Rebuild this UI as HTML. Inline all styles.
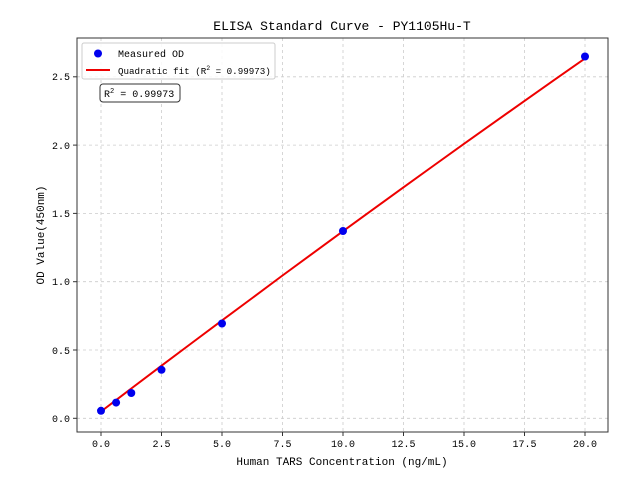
<!DOCTYPE html>
<html><head><meta charset="utf-8"><style>
body{margin:0;background:#fff}
svg text{font-family:"Liberation Mono","WenQuanYi Zen Hei",monospace;fill:#000}
</style></head><body>
<svg width="640" height="480" xmlns="http://www.w3.org/2000/svg">
<rect width="640" height="480" fill="#fff"/>
<g stroke="#ccc" stroke-dasharray="3,3" stroke-width="0.8">
<line x1="101" y1="38" x2="101" y2="432"/><line x1="161.5" y1="38" x2="161.5" y2="432"/>
<line x1="222" y1="38" x2="222" y2="432"/><line x1="282.5" y1="38" x2="282.5" y2="432"/>
<line x1="343" y1="38" x2="343" y2="432"/><line x1="403.5" y1="38" x2="403.5" y2="432"/>
<line x1="464" y1="38" x2="464" y2="432"/><line x1="524.5" y1="38" x2="524.5" y2="432"/>
<line x1="585" y1="38" x2="585" y2="432"/>
<line x1="77" y1="418.3" x2="608" y2="418.3"/><line x1="77" y1="350" x2="608" y2="350"/>
<line x1="77" y1="281.7" x2="608" y2="281.7"/><line x1="77" y1="213.4" x2="608" y2="213.4"/>
<line x1="77" y1="145.1" x2="608" y2="145.1"/><line x1="77" y1="76.8" x2="608" y2="76.8"/>
</g>
<rect x="77" y="38" width="531" height="394" fill="none" stroke="#333" stroke-width="1"/>
<g stroke="#333">
<line x1="101" y1="432" x2="101" y2="436"/><line x1="161.5" y1="432" x2="161.5" y2="436"/><line x1="222" y1="432" x2="222" y2="436"/><line x1="282.5" y1="432" x2="282.5" y2="436"/><line x1="343" y1="432" x2="343" y2="436"/><line x1="403.5" y1="432" x2="403.5" y2="436"/><line x1="464" y1="432" x2="464" y2="436"/><line x1="524.5" y1="432" x2="524.5" y2="436"/><line x1="585" y1="432" x2="585" y2="436"/>
<line x1="73" y1="418.3" x2="77" y2="418.3"/><line x1="73" y1="350" x2="77" y2="350"/><line x1="73" y1="281.7" x2="77" y2="281.7"/><line x1="73" y1="213.4" x2="77" y2="213.4"/><line x1="73" y1="145.1" x2="77" y2="145.1"/><line x1="73" y1="76.8" x2="77" y2="76.8"/>
</g>
<g font-size="10" text-anchor="middle">
<text x="101" y="447">0.0</text><text x="161.5" y="447">2.5</text><text x="222" y="447">5.0</text><text x="282.5" y="447">7.5</text><text x="343" y="447">10.0</text><text x="403.5" y="447">12.5</text><text x="464" y="447">15.0</text><text x="524.5" y="447">17.5</text><text x="585" y="447">20.0</text>
</g>
<g font-size="10" text-anchor="end">
<text x="70" y="422">0.0</text><text x="70" y="354">0.5</text><text x="70" y="285">1.0</text><text x="70" y="217">1.5</text><text x="70" y="149">2.0</text><text x="70" y="80">2.5</text>
</g>
<text x="342" y="465" font-size="11" text-anchor="middle">Human TARS Concentration (ng/mL)</text>
<text transform="translate(44,235) rotate(-90)" font-size="11" text-anchor="middle">OD Value(450nm)</text>
<text x="342" y="30" font-size="13" text-anchor="middle">ELISA Standard Curve - PY1105Hu-T</text>
<polyline fill="none" stroke="#e00" stroke-width="2" points="101,411.5 116.1,400.1 131.3,388.5 161.5,365.7 191.8,343 222,320.4 252.3,298 282.5,275.5 312.8,253.3 343,231.2 373.3,209.2 403.5,187.3 433.8,165.5 464,143.8 494.3,122.3 524.5,100.9 554.8,79.6 585,58.4"/>
<g fill="#0000ee">
<circle cx="101" cy="410.8" r="4"/><circle cx="116.1" cy="402.6" r="4"/><circle cx="131.3" cy="393" r="4"/><circle cx="161.5" cy="369.8" r="4"/><circle cx="222" cy="323.5" r="4"/><circle cx="343" cy="231" r="4"/><circle cx="585" cy="56.5" r="4"/>
</g>
<rect x="82" y="43" width="193" height="36" rx="2" fill="#fff" fill-opacity="0.85" stroke="#ccc"/>
<circle cx="98" cy="53.5" r="4" fill="#0000ee"/>
<text x="118" y="57" font-size="10">Measured OD</text>
<line x1="86" y1="70" x2="110" y2="70" stroke="#e00" stroke-width="2"/>
<text x="118" y="74" font-size="9.2">Quadratic fit (R<tspan dy="-4" font-size="6.5">2</tspan><tspan dy="4"> = 0.99973)</tspan></text>
<rect x="100" y="84" width="80" height="18" rx="3" fill="#fff" stroke="#333"/>
<text x="104" y="97" font-size="10">R<tspan dy="-4" font-size="7">2</tspan><tspan dy="4"> = 0.99973</tspan></text>
</svg>
</body></html>
